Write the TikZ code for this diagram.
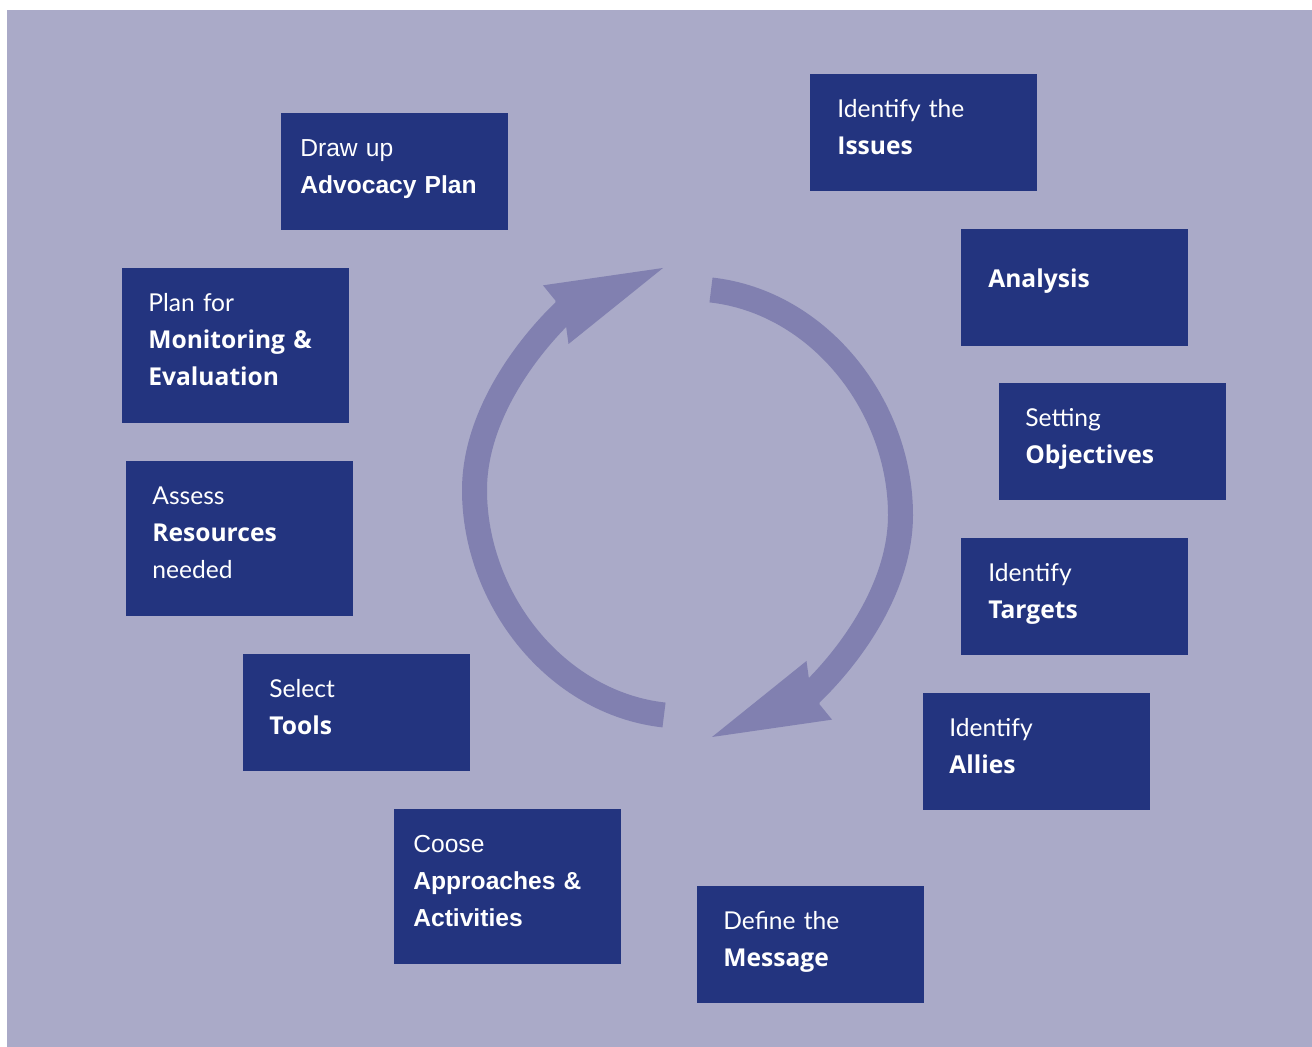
\documentclass[tikz,border=0pt]{standalone}
\usepackage{fontspec}
\setmainfont{Lato}
\newfontfamily\headfont{Open Sans}
\newfontfamily\arialfont{Liberation Sans}
\usetikzlibrary{arrows.meta, positioning}

\definecolor{bgback}{HTML}{AAAAC8}
\definecolor{boxblue}{HTML}{23347F}
\definecolor{ringblue}{HTML}{8180B0}
\newcommand{\boldline}[1]{{\headfont\bfseries #1}}

\begin{document}
\begin{tikzpicture}[x=0.02cm, y=0.02cm,
		stage/.style = {rectangle, fill=boxblue, anchor=north west, minimum width=4.54cm, minimum height=2.34cm, inner sep=0pt, outer sep=0pt},
		tall/.style = {minimum height=3.1cm},
		caption/.style = {anchor=base west, inner sep=0pt, text width=4cm, align=left, text=white, font=\fontsize{14pt}{21pt}\selectfont},
		arialcap/.style = {caption, font=\arialfont\fontsize{14pt}{21pt}\selectfont},
		ring/.style = {draw=ringblue, line width=0.5cm},
		ringhead/.style = {ring, -{Stealth[length=2.34cm, width=1.28cm, inset=0.18cm, line width=0pt]}}]
		
		\useasboundingbox (0,0) rectangle (1312,1047);
		\fill[bgback] (7,0) rectangle (1312,1037);
		
		% the two turning arrows
		\coordinate (hub) at (687.5,544.5);
		\foreach \turn in {0,180} {
			\draw[ring, rotate around={\turn:(hub)}] (664,332) .. controls (556,344) and (474.5,448) .. (474.5,557)
			.. controls (474.5,627) and (521.4,694.3) .. (564.5,736);
			\draw[ringhead, rotate around={\turn:(hub)}] (560.3,734.3) -- (663,779);
		}
		
		% stages
		\node[stage] (plan) at (281,934) {};
		\node[stage] (issues) at (810,973) {};
		\node[stage] (analysis) at (961,818) {};
		\node[stage] (objectives) at (999,664) {};
		\node[stage] (targets) at (961,509) {};
		\node[stage] (allies) at (923,354) {};
		\node[stage] (message) at (697,161) {};
		\node[stage, tall] (approaches) at (394,238) {};
		\node[stage] (tools) at (243,393) {};
		\node[stage, tall] (resources) at (126,586) {};
		\node[stage, tall] (monitoring) at (122,779) {};
		
		\node[arialcap] (planT) at ([shift={(19,-44)}]plan.north west) {Draw up\\\textbf{Advocacy Plan}};
		\node[caption] (issuesT) at ([shift={(27,-44)}]issues.north west) {Identify the\\\boldline{Issues}};
		\node[caption] (analysisT) at ([shift={(27,-59)}]analysis.north west) {\boldline{Analysis}};
		\node[caption] (objectivesT) at ([shift={(26,-44)}]objectives.north west) {Setting\\\boldline{Objectives}};
		\node[caption] (targetsT) at ([shift={(27,-44)}]targets.north west) {Identify\\\boldline{Targets}};
		\node[caption] (alliesT) at ([shift={(26,-44)}]allies.north west) {Identify\\\boldline{Allies}};
		\node[caption] (messageT) at ([shift={(26,-44)}]message.north west) {Define the\\\boldline{Message}};
		\node[arialcap] (approachesT) at ([shift={(19,-44)}]approaches.north west) {Coose\\\textbf{Approaches \&}\\\textbf{Activities}};
		\node[caption] (toolsT) at ([shift={(26,-44)}]tools.north west) {Select\\\boldline{Tools}};
		\node[caption] (resourcesT) at ([shift={(26,-44)}]resources.north west) {Assess\\\boldline{Resources}\\needed};
		\node[caption] (monitoringT) at ([shift={(26,-44)}]monitoring.north west) {Plan for\\\boldline{Monitoring \&}\\\boldline{Evaluation}};
		\end{tikzpicture}
\end{document}
